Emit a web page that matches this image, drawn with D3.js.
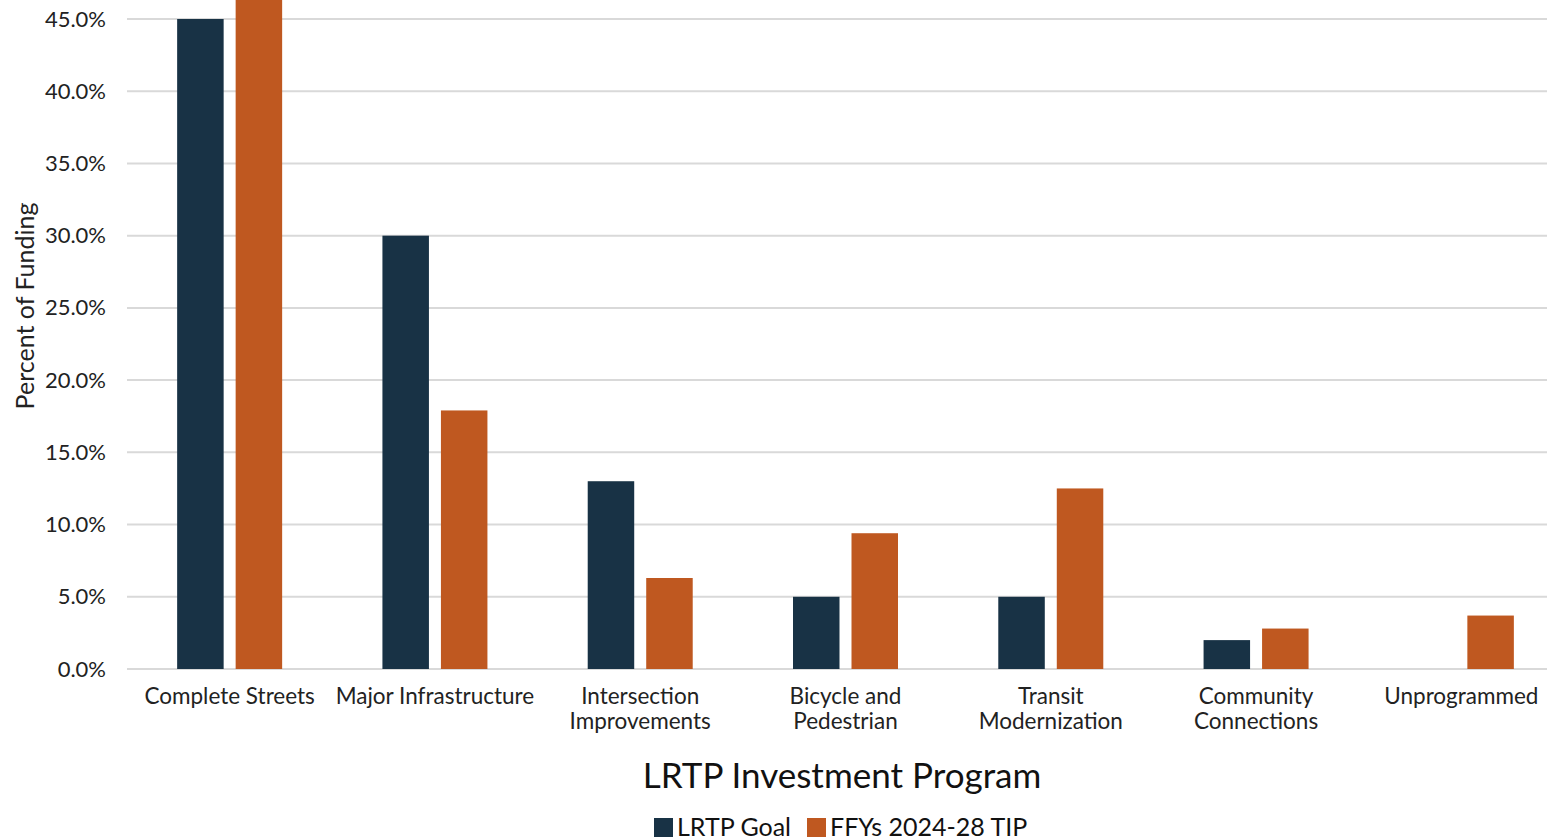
<!DOCTYPE html>
<html><head><meta charset="utf-8">
<script src="https://cdn.jsdelivr.net/npm/d3@7"></script>
<style>
html,body{margin:0;padding:0;background:#fff;}
svg{display:block;font-family:Lato,"Open Sans",sans-serif;}
</style></head>
<body>
<svg id="chart" width="1547" height="840"></svg>
<script>
const categories = [
  ["Complete Streets"],
  ["Major Infrastructure"],
  ["Intersection", "Improvements"],
  ["Bicycle and", "Pedestrian"],
  ["Transit", "Modernization"],
  ["Community", "Connections"],
  ["Unprogrammed"]
];
const seriesNames = ["LRTP Goal", "FFYs 2024-28 TIP"];
const lrtpGoal = [45, 30, 13, 5, 5, 2, null];
const tip = [47.5, 17.9, 6.3, 9.4, 12.5, 2.8, 3.7];
const yTicks = [0, 5, 10, 15, 20, 25, 30, 35, 40, 45];
const colors = ["#183245", "#bf5820"];

const svg = d3.select("#chart");
const plotL = 127, plotR = 1564, plotT = 19, plotB = 669;

const x0 = d3.scaleBand().domain(d3.range(categories.length)).range([plotL, plotR]);
const y = d3.scaleLinear().domain([0, 45]).range([plotB, plotT]);
const barW = 46.5, gap = 12;
const offset = si => si === 0 ? -barW - gap / 2 : gap / 2;

// gridlines
svg.append("g").selectAll("line").data(yTicks).join("line")
  .attr("x1", plotL).attr("x2", plotR)
  .attr("y1", d => y(d)).attr("y2", d => y(d))
  .attr("stroke", "#d9d9d9").attr("stroke-width", 2);

// y axis labels
const yAxis = d3.axisLeft(y).tickValues(yTicks).tickFormat(d => d.toFixed(1) + "%").tickSize(0).tickPadding(21);
const gy = svg.append("g").attr("transform", `translate(${plotL},0)`).call(yAxis);
gy.select(".domain").remove();
gy.selectAll("text").attr("font-size", 22).attr("fill", "#222").attr("font-family", "Lato, sans-serif");

// bars
const series = [lrtpGoal, tip];
series.forEach((vals, si) => {
  svg.append("g").selectAll("rect").data(vals.map((v, i) => ({v, i})).filter(d => d.v != null)).join("rect")
    .attr("x", d => x0(d.i) + x0.bandwidth() / 2 + offset(si))
    .attr("width", barW)
    .attr("y", d => y(d.v))
    .attr("height", d => y(0) - y(d.v))
    .attr("fill", colors[si]);
});

// x labels
const xl = svg.append("g");
categories.forEach((lines, i) => {
  const cx = Math.min(x0(i) + x0.bandwidth() / 2, 1465);
  const t = xl.append("text")
    .attr("x", cx)
    .attr("y", 704)
    .attr("text-anchor", "middle")
    .attr("font-size", 22.5).attr("fill", "#222");
  lines.forEach((ln, k) => {
    t.append("tspan").attr("x", cx).attr("dy", k === 0 ? 0 : 25).text(ln);
  });
});

// axis titles
svg.append("text").attr("x", 842).attr("y", 788).attr("text-anchor", "middle")
  .attr("font-size", 35).attr("fill", "#111").text("LRTP Investment Program");
svg.append("text").attr("transform", "translate(34,306) rotate(-90)").attr("text-anchor", "middle")
  .attr("font-size", 25).attr("fill", "#222").text("Percent of Funding");

// legend
const legX = [654, 807];
seriesNames.forEach((n, i) => {
  svg.append("rect").attr("x", legX[i]).attr("y", 818).attr("width", 19).attr("height", 19).attr("fill", colors[i]);
  svg.append("text").attr("x", legX[i] + 23).attr("y", 836).attr("font-size", 25).attr("fill", "#111").text(n);
});
</script>
</body></html>
